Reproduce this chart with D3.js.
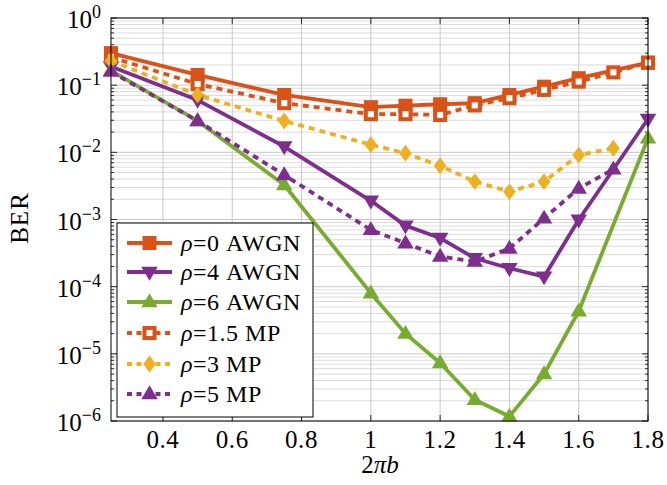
<!DOCTYPE html>
<html>
<head>
<meta charset="utf-8">
<script src="https://cdn.jsdelivr.net/npm/d3@7"></script>
<style>
  body { margin: 0; background: #fff; }
  text { font-family: "Liberation Serif", "DejaVu Serif", serif; fill: #000; }
</style>
</head>
<body>
<div id="viz"></div>
<script>
// ---- data ----
let x_awgn = [0.25, 0.5, 0.75, 1.0, 1.1, 1.2, 1.3, 1.4, 1.5, 1.6, 1.8];
let x_mp = [0.25, 0.5, 0.75, 1.0, 1.1, 1.2, 1.3, 1.4, 1.5, 1.6, 1.7, 1.8];
let x_mp3 = [0.25, 0.5, 0.75, 1.0, 1.1, 1.2, 1.3, 1.4, 1.5, 1.6, 1.7];
let x_mp5 = [0.25, 0.5, 0.75, 1.0, 1.1, 1.2, 1.3, 1.4, 1.5, 1.6, 1.7];

let ber_rho0_awgn = [0.30, 0.142, 0.0715, 0.047, 0.0495, 0.052, 0.054, 0.0715, 0.095, 0.127, 0.216];
let ber_rho4_awgn = [0.19, 0.06, 0.0122, 0.0019, 0.00081, 0.00053, 0.000265, 0.000188, 0.000141, 0.00099, 0.0314];
let ber_rho6_awgn = [0.165, 0.0293, 0.00327, 0.00008, 0.00002, 0.0000073, 0.00000207, 0.00000117, 0.000005, 0.000043, 0.0162];
let ber_rho15_mp = [0.26, 0.104, 0.054, 0.037, 0.037, 0.036, 0.05, 0.064, 0.085, 0.113, 0.155, 0.216];
let ber_rho3_mp = [0.23, 0.0715, 0.0293, 0.013, 0.0097, 0.0063, 0.00367, 0.0026, 0.00367, 0.0091, 0.0115];
let ber_rho5_mp = [0.159, 0.0293, 0.0046, 0.0007, 0.000444, 0.000281, 0.000236, 0.00037, 0.00104, 0.0029, 0.0056];

let x_ticks = [0.4, 0.6, 0.8, 1.0, 1.2, 1.4, 1.6, 1.8];
let y_decades = [0, -1, -2, -3, -4, -5, -6];

let series = [
    {"label": "=0 AWGN",   "x": x_awgn, "y": ber_rho0_awgn, "color": "#D95319", "dash": null,  "marker": "square"},
    {"label": "=4 AWGN",   "x": x_awgn, "y": ber_rho4_awgn, "color": "#7E2F8E", "dash": null,  "marker": "tri_down"},
    {"label": "=6 AWGN",   "x": x_awgn, "y": ber_rho6_awgn, "color": "#77AC30", "dash": null,  "marker": "tri_up"},
    {"label": "=1.5 MP",   "x": x_mp,   "y": ber_rho15_mp,  "color": "#D95319", "dash": "6,5", "marker": "square_open"},
    {"label": "=3 MP",     "x": x_mp3,  "y": ber_rho3_mp,   "color": "#EDB120", "dash": "6,5", "marker": "diamond"},
    {"label": "=5 MP",     "x": x_mp5,  "y": ber_rho5_mp,   "color": "#7E2F8E", "dash": "6,5", "marker": "tri_up"}
];

let W = 667, H = 485;
let p_left = 111, p_right = 648, p_top = 18, p_bottom = 421;

let svg = d3.select("#viz").append("svg").attr("width", W).attr("height", H);

let x_scale = d3.scaleLinear().domain([0.25, 1.8]).range([p_left, p_right]);
let y_scale = d3.scaleLog().domain([1e-6, 1]).range([p_bottom, p_top]);

// grid
let minor_vals = [];
for (let e = -6; e < 0; e++) {
    for (let m = 2; m <= 9; m++) minor_vals.push(m * Math.pow(10, e));
}
let grid = svg.append("g");
grid.selectAll(".minor").data(minor_vals).enter().append("line")
    .attr("x1", p_left).attr("x2", p_right)
    .attr("y1", d => y_scale(d)).attr("y2", d => y_scale(d))
    .attr("stroke", "#dcdcdc").attr("stroke-width", 1);
grid.selectAll(".major").data(y_decades).enter().append("line")
    .attr("x1", p_left).attr("x2", p_right)
    .attr("y1", d => y_scale(Math.pow(10, d))).attr("y2", d => y_scale(Math.pow(10, d)))
    .attr("stroke", "#c8c8c8").attr("stroke-width", 1);
grid.selectAll(".vgrid").data(x_ticks).enter().append("line")
    .attr("x1", d => x_scale(d)).attr("x2", d => x_scale(d))
    .attr("y1", p_top).attr("y2", p_bottom)
    .attr("stroke", "#c8c8c8").attr("stroke-width", 1);

// ticks inward (pgfplots style)
let ticks = svg.append("g").attr("stroke", "#000").attr("stroke-width", 0.8);
minor_vals.forEach(function(v){
    let y = y_scale(v);
    ticks.append("line").attr("x1", p_left).attr("x2", p_left + 3).attr("y1", y).attr("y2", y);
    ticks.append("line").attr("x1", p_right).attr("x2", p_right - 3).attr("y1", y).attr("y2", y);
});
y_decades.forEach(function(e){
    let y = y_scale(Math.pow(10, e));
    ticks.append("line").attr("x1", p_left).attr("x2", p_left + 6).attr("y1", y).attr("y2", y);
    ticks.append("line").attr("x1", p_right).attr("x2", p_right - 6).attr("y1", y).attr("y2", y);
});
x_ticks.forEach(function(v){
    let x = x_scale(v);
    ticks.append("line").attr("x1", x).attr("x2", x).attr("y1", p_bottom).attr("y2", p_bottom - 6);
    ticks.append("line").attr("x1", x).attr("x2", x).attr("y1", p_top).attr("y2", p_top + 6);
});

// tick labels
svg.selectAll(".xlab").data(x_ticks).enter().append("text")
    .attr("x", d => x_scale(d)).attr("y", p_bottom + 27)
    .attr("text-anchor", "middle").style("font-size", "25px").style("letter-spacing", "0.6px")
    .text(d => String(+d.toFixed(1)));

let ylab = svg.selectAll(".ylab").data(y_decades).enter().append("text")
    .attr("x", p_left - 10).attr("y", d => y_scale(Math.pow(10, d)) + 10)
    .attr("text-anchor", "end").style("font-size", "25px");
ylab.append("tspan").text("10");
ylab.append("tspan").attr("dy", -10).style("font-size", "18px")
    .text(d => d === 0 ? "0" : "\u2212" + Math.abs(d));

// axis labels
svg.append("text").attr("transform", "translate(28,218) rotate(-90)")
    .attr("text-anchor", "middle").style("font-size", "25px").style("letter-spacing", "1px").text("BER");
let xl = svg.append("text").attr("x", 380).attr("y", 473)
    .attr("text-anchor", "middle").style("font-size", "25px");
xl.append("tspan").text("2");
xl.append("tspan").style("font-style", "italic").text("\u03c0b");

// markers
function draw_marker(g, kind, color, cx, cy, s) {
    if (kind === "square") {
        g.append("rect").attr("x", cx - s * 0.5).attr("y", cy - s * 0.5)
            .attr("width", s).attr("height", s).attr("fill", color);
    } else if (kind === "square_open") {
        g.append("rect").attr("x", cx - s * 0.36).attr("y", cy - s * 0.36)
            .attr("width", s * 0.72).attr("height", s * 0.72)
            .attr("fill", "#fff").attr("stroke", color).attr("stroke-width", 4);
    } else if (kind === "tri_up") {
        let r = s * 0.62;
        g.append("path").attr("d", "M" + cx + "," + (cy - r) + "L" + (cx + r * 0.95) + "," + (cy + r * 0.6) +
            "L" + (cx - r * 0.95) + "," + (cy + r * 0.6) + "Z").attr("fill", color);
    } else if (kind === "tri_down") {
        let r = s * 0.62;
        g.append("path").attr("d", "M" + cx + "," + (cy + r) + "L" + (cx + r * 0.95) + "," + (cy - r * 0.6) +
            "L" + (cx - r * 0.95) + "," + (cy - r * 0.6) + "Z").attr("fill", color);
    } else if (kind === "diamond") {
        g.append("path").attr("d", "M" + cx + "," + (cy - s * 0.6) + "L" + (cx + s * 0.45) + "," + cy +
            "L" + cx + "," + (cy + s * 0.6) + "L" + (cx - s * 0.45) + "," + cy + "Z").attr("fill", color);
    }
}

let line_gen = d3.line().x(d => x_scale(d[0])).y(d => y_scale(d[1]));
let plot = svg.append("g");
series.forEach(function(s){
    let pts = s.x.map((v, i) => [v, s.y[i]]);
    let g = plot.append("g");
    g.append("path").datum(pts).attr("d", line_gen)
        .attr("fill", "none").attr("stroke", s.color).attr("stroke-width", 3.8)
        .attr("stroke-linejoin", "round")
        .attr("stroke-dasharray", s.dash);
    pts.forEach(function(p){
        draw_marker(g, s.marker, s.color, x_scale(p[0]), y_scale(p[1]), 14);
    });
});

// axes box
svg.append("rect").attr("x", p_left).attr("y", p_top).attr("width", p_right - p_left).attr("height", p_bottom - p_top)
    .attr("fill", "none").attr("stroke", "#000").attr("stroke-width", 1);

// legend
let lg = svg.append("g");
lg.append("rect").attr("x", 117).attr("y", 223).attr("width", 196).attr("height", 194)
    .attr("fill", "#fff").attr("stroke", "#000").attr("stroke-width", 1);
let row_y = [243, 272, 302, 333, 364, 394];
series.forEach(function(s, i){
    let y = row_y[i];
    lg.append("line").attr("x1", 127).attr("x2", 172).attr("y1", y).attr("y2", y)
        .attr("stroke", s.color).attr("stroke-width", 3.8)
        .attr("stroke-dasharray", s.dash ? "5,4.5" : null);
    draw_marker(lg, s.marker, s.color, 149.5, y, 14);
    let t = lg.append("text").attr("x", 181).attr("y", y + 8).style("font-size", "24px")
        .style("letter-spacing", "0.5px");
    t.append("tspan").style("font-style", "italic").text("\u03c1");
    t.append("tspan").text(s.label);
});
</script>
</body>
</html>
